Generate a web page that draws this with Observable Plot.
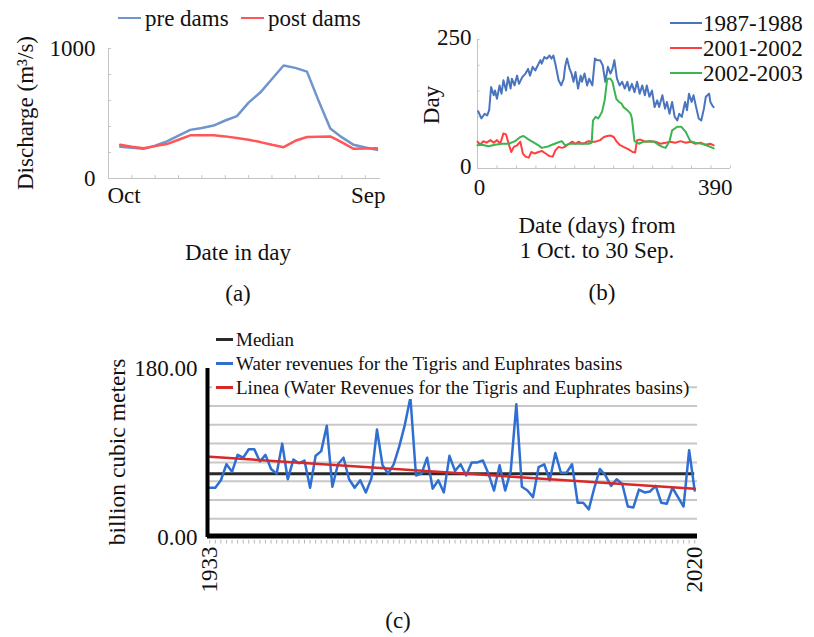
<!DOCTYPE html>
<html><head><meta charset="utf-8">
<script src="https://cdn.jsdelivr.net/npm/d3@7"></script>
<script src="https://cdn.jsdelivr.net/npm/@observablehq/plot@0.6"></script>
<style>
body{margin:0;background:#fff;}
#root{position:relative;width:814px;height:637px;overflow:hidden;font-family:"Liberation Serif","Times New Roman",serif;color:#111;background:#fff;}
.t{position:absolute;white-space:nowrap;line-height:1;}
.sw{position:absolute;}
#root svg{position:absolute;}
</style></head>
<body><div id="root"></div>
<script>
// ---------------- Panel (a) data ----------------
const monthPosA = [0.5,1,1.5,2,2.5,3,3.5,4,4.5,5,5.5,6,6.5,7,7.5,8,8.5,9,9.5,10,10.5,11,11.5];
const preDams  = [244,236,228,252,285,329,374,389,407,446,480,584,661,765,869,851,822,597,384,316,259,239,220];
const postDams = [259,244,233,249,265,298,332,332,332,324,311,298,280,259,241,290,319,322,324,278,228,231,233];
const yTicksA = [0,200,400,600,800,1000];
const yLabelsA = [0,1000];
const xTicksA = [1,2,3,4,5,6,7,8,9,10,11];
const xDomainA = [0, 11.65];

// ---------------- Panel (b) data ----------------
const days1987 = [1,6,11,15,18,21,25,27,30,34,37,40,44,47,51,53,57,61,64,69,74,78,81,85,89,93,97,99,103,107,111,114,117,120,123,125,129,133,135,138,142,145,148,151,155,159,161,165,169,172,177,181,184,189,193,197,201,205,208,211,215,219,223,227,231,234,238,242,246,250,254,258,261,265,269,273,277,280,285,289,292,296,300,304,308,311,315,320,323,326,330,333,337,341,345,349,352,357,359,362,364];
const vals1987 = [111,97,106,103,113,158,142,151,135,161,145,171,151,177,155,174,161,180,164,177,184,193,180,197,190,200,210,203,216,213,219,213,219,203,184,171,161,174,197,213,193,184,168,187,155,180,168,184,161,174,161,213,210,210,200,168,197,184,193,210,174,161,168,155,168,151,164,148,168,145,161,142,161,139,151,119,132,119,142,116,129,106,129,100,93,106,100,129,113,145,129,142,119,97,93,116,139,145,129,122,119];
const days2001 = [0,4,9,14,20,25,30,35,40,44,48,52,56,61,66,70,74,79,83,88,94,99,105,111,116,120,125,130,135,141,146,151,156,161,166,171,177,182,189,195,200,205,210,214,219,225,233,239,243,246,251,259,267,274,282,290,297,305,313,321,328,336,344,351,359,364];
const vals2001 = [52,46,53,50,55,50,55,48,68,66,48,32,42,45,52,29,23,21,32,29,32,34,29,24,23,35,42,40,42,48,52,48,52,48,50,53,52,52,55,61,63,64,61,53,46,42,37,32,31,55,56,52,53,52,48,50,52,50,53,50,52,48,50,46,48,45];
const days2002 = [0,7,17,27,38,48,58,66,71,79,87,94,99,107,115,123,130,135,143,151,161,171,176,178,182,186,189,192,196,200,205,208,211,214,218,222,225,231,236,238,241,242,249,256,264,272,279,285,290,296,300,308,314,321,328,336,346,357,364];
const vals2002 = [45,46,43,46,48,48,53,61,63,56,50,45,40,42,46,50,53,45,48,48,48,48,50,93,100,97,103,110,132,174,174,168,151,135,129,126,119,113,106,97,64,53,48,52,53,52,46,42,40,53,74,81,81,71,53,50,48,43,39];
const yTicksB = [0,50,100,150,200,250];
const yLabelsB = [0,250];
const xTicksB = [30,60,90,120,150,180,210,240,270,300,330,360,390];
const xDomainB = [0, 390];

// ---------------- Panel (c) data ----------------
const startYearC = 1933;
const waterRevenue = [53,53,61,78,70,88,85,94,94,81,88,73,68,100,62,83,79,82,53,87,92,119,54,78,85,62,53,61,48,63,
  115,77,68,78,97,120,149,66,68,85,52,61,48,87,71,78,66,80,80,82,68,50,77,50,71,142,54,50,43,75,
  78,61,90,69,69,78,37,37,30,53,73,66,55,62,57,33,32,51,48,49,55,37,36,53,43,33,93,50];
const medianC = 68;
const trendYears = [1933, 2020];
const trendValues = [86, 52];
const gridC = [20,40,60,80,100,120,140,160];
const yLabelsC = [0,180];
const xLabelsC = [1933,2020];
const xDomainC = [1932.6, 2020.5];

const FONT = '"Liberation Serif","Times New Roman",serif';
const root = document.getElementById("root");

function place(svg, left, top) { svg.style.left = left + "px"; svg.style.top = top + "px"; root.appendChild(svg); }
function text(str, x, y, size, anchor = "c", rotate = false) {
  const d = document.createElement("div");
  d.className = "t"; d.textContent = str; d.style.fontSize = size + "px";
  d.style.left = x + "px"; d.style.top = y + "px";
  const tx = anchor === "c" ? "-50%" : anchor === "l" ? "0" : "-100%";
  d.style.transform = rotate ? "translate(-50%,-50%) rotate(-90deg)" : `translate(${tx},-50%)`;
  root.appendChild(d); return d;
}
function swatch(x1, x2, y, color, w) {
  const d = document.createElement("div");
  d.className = "sw"; d.style.left = x1 + "px"; d.style.width = (x2 - x1) + "px";
  d.style.top = (y - w / 2) + "px"; d.style.height = w + "px"; d.style.background = color;
  root.appendChild(d);
}
const baseStyle = {fontFamily: FONT, fontSize: "23px", color: "#111", background: "transparent", overflow: "visible"};
const axisGrey = "#c4c4c4";

// ---------------- Plot (a) ----------------
const dataPre = monthPosA.map((x, i) => ({x, v: preDams[i]}));
const dataPost = monthPosA.map((x, i) => ({x, v: postDams[i]}));
const plotA = Plot.plot({
  width: 410, height: 310, marginLeft: 108, marginRight: 30, marginTop: 48, marginBottom: 132,
  x: {domain: xDomainA, axis: null}, y: {domain: [0, 1000], axis: null},
  style: baseStyle,
  marks: [
    Plot.ruleX([xDomainA[0]], {y1: 0, y2: 1000, stroke: axisGrey}),
    Plot.ruleY([0], {x1: xDomainA[0], x2: xDomainA[1], stroke: axisGrey}),
    Plot.ruleY(yTicksA, {y: d => d, x1: 0, x2: 0.13, stroke: axisGrey}),
    Plot.ruleX(xTicksA, {x: d => d, y1: 0, y2: 22, stroke: axisGrey}),
    Plot.line(dataPre, {x: "x", y: "v", stroke: "#6f95cb", strokeWidth: 2.5}),
    Plot.line(dataPost, {x: "x", y: "v", stroke: "#ff5757", strokeWidth: 2.5}),
    Plot.text(yLabelsA, {x: 0, y: d => d, text: d => String(d), textAnchor: "end", dx: -13, fontSize: 23}),
    Plot.text(["Oct"], {x: xDomainA[0], y: 0, text: d => d, textAnchor: "start", dy: 17, dx: -1, fontSize: 23}),
    Plot.text(["Sep"], {x: xDomainA[1], y: 0, text: d => d, textAnchor: "end", dy: 17, dx: 5, fontSize: 23})
  ]
});
place(plotA, 0, 0);

// ---------------- Plot (b) ----------------
const d1987 = days1987.map((x, i) => ({x, v: vals1987[i]}));
const d2001 = days2001.map((x, i) => ({x, v: vals2001[i]}));
const d2002 = days2002.map((x, i) => ({x, v: vals2002[i]}));
const plotB = Plot.plot({
  width: 414, height: 310, marginLeft: 77, marginRight: 84, marginTop: 39, marginBottom: 142,
  x: {domain: xDomainB, axis: null}, y: {domain: [0, 250], axis: null},
  style: baseStyle,
  marks: [
    Plot.ruleX([0], {y1: 0, y2: 250, stroke: axisGrey}),
    Plot.ruleY([0], {x1: xDomainB[0], x2: xDomainB[1], stroke: axisGrey}),
    Plot.ruleY(yTicksB, {y: d => d, x1: 0, x2: 4, stroke: axisGrey}),
    Plot.ruleX(xTicksB, {x: d => d, y1: 0, y2: 5, stroke: axisGrey}),
    Plot.line(d1987, {x: "x", y: "v", stroke: "#4a74bd", strokeWidth: 2}),
    Plot.line(d2001, {x: "x", y: "v", stroke: "#ff4040", strokeWidth: 2}),
    Plot.line(d2002, {x: "x", y: "v", stroke: "#3cb44f", strokeWidth: 2}),
    Plot.text(yLabelsB, {x: 0, y: d => d, text: d => String(d), textAnchor: "end", dx: -6, dy: -2, fontSize: 23}),
    Plot.text([xDomainB[0]], {x: d => d, y: 0, text: d => String(d), dx: 2, dy: 19, fontSize: 23}),
    Plot.text([xDomainB[1]], {x: d => d, y: 0, text: d => String(d), textAnchor: "end", dx: 2, dy: 19, fontSize: 23})
  ]
});
place(plotB, 400, 0);

// ---------------- Plot (c) ----------------
const dWater = waterRevenue.map((v, i) => ({year: startYearC + i, v}));
const dTrend = trendYears.map((year, i) => ({year, v: trendValues[i]}));
const yearsC = dWater.map(d => d.year);
const plotC = Plot.plot({
  width: 814, height: 317, marginLeft: 207, marginRight: 117, marginTop: 48, marginBottom: 100,
  x: {domain: xDomainC, axis: null}, y: {domain: [0, 180], axis: null},
  style: baseStyle,
  marks: [
    Plot.ruleY(gridC, {y: d => d, x1: xDomainC[0], x2: xDomainC[1], stroke: "#c8c8c8", strokeWidth: 2}),
    Plot.ruleX(yearsC, {x: d => d, y1: -3, y2: -7, stroke: "#b5b5b5", strokeWidth: 1}),
    Plot.ruleY([medianC], {x1: trendYears[0], x2: trendYears[1], stroke: "#2a2a2a", strokeWidth: 3}),
    Plot.line(dWater, {x: "year", y: "v", stroke: "#2f6fd2", strokeWidth: 2.5}),
    Plot.line(dTrend, {x: "year", y: "v", stroke: "#d7282a", strokeWidth: 2.5}),
    Plot.ruleX([xDomainC[0]], {y1: 0, y2: 180, stroke: "#000", strokeWidth: 4}),
    Plot.ruleY([0], {x1: xDomainC[0], x2: xDomainC[1], stroke: "#000", strokeWidth: 5, dy: -1.5}),
    Plot.text(yLabelsC, {x: xDomainC[0], y: d => d, text: d => d.toFixed(2), textAnchor: "end", dx: -10, fontSize: 23}),
    Plot.text(xLabelsC, {x: d => d, y: 0, text: d => String(d), rotate: -90, textAnchor: "end", dy: 9, fontSize: 23})
  ]
});
place(plotC, 0, 320);

// ---------------- Texts & legends ----------------
// (a)
swatch(118, 141, 18, "#6f95cb", 2.5); text("pre dams", 145, 18, 23, "l");
swatch(241, 264, 18, "#ff5757", 2.5); text("post dams", 268, 18, 23, "l");
text("Discharge (m\u00b3/s)", 25, 113, 23, "c", true);
text("Date in day", 238, 252, 23);
text("(a)", 238, 293, 23);
// (b)
swatch(670, 702, 23, "#4a74bd", 2); text("1987-1988", 703, 23, 23, "l");
swatch(670, 702, 48, "#ff4040", 2); text("2001-2002", 703, 48, 23, "l");
swatch(670, 702, 73, "#3cb44f", 2); text("2002-2003", 703, 73, 23, "l");
text("Day", 431, 105, 23, "c", true);
text("Date (days) from", 597, 225, 23);
text("1 Oct. to 30 Sep.", 597, 250, 23);
text("(b)", 602, 292, 23);
// (c)
const box = document.createElement("div");
box.style.cssText = "position:absolute;left:212px;top:327px;width:475px;height:72px;background:#fff;";
root.appendChild(box);
swatch(216, 233, 339, "#2a2a2a", 3); text("Median", 236, 339, 19, "l");
swatch(216, 233, 363, "#2f6fd2", 3); text("Water revenues for the Tigris and Euphrates basins", 236, 363, 19, "l");
swatch(216, 233, 387, "#d7282a", 3); text("Linea (Water Revenues for the Tigris and Euphrates basins)", 236, 387, 19, "l");
text("billion cubic meters", 118, 452, 23.5, "c", true);
text("(c)", 398, 620, 23);
</script>
</body></html>
